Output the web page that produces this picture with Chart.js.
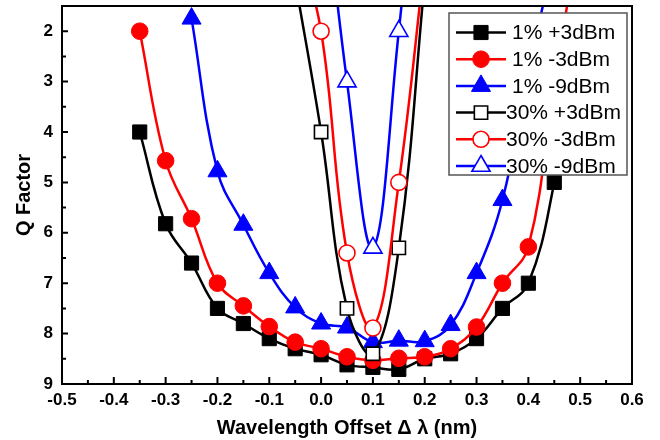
<!DOCTYPE html>
<html>
<head>
<meta charset="utf-8">
<script src="https://cdn.jsdelivr.net/npm/chart.js@4/dist/chart.umd.min.js"></script>
<style>
  html, body { margin: 0; padding: 0; background: #fff; }
  canvas { display: block; }
</style>
</head>
<body>
<canvas id="qChart" width="660" height="440"></canvas>
<script>
// Axis ticks
const xTicks = [-0.5, -0.4, -0.3, -0.2, -0.1, 0, 0.1, 0.2, 0.3, 0.4, 0.5, 0.6];
const yTicks = [2, 3, 4, 5, 6, 7, 8, 9];

// 1% series (filled markers)
const x1p3 = [-0.35, -0.3, -0.25, -0.2, -0.15, -0.1, -0.05, 0, 0.05, 0.1, 0.15, 0.2, 0.25, 0.3, 0.35, 0.4, 0.45, 0.5];
const q1p3 = [4.0, 5.82, 6.6, 7.5, 7.8, 8.1, 8.3, 8.42, 8.62, 8.67, 8.71, 8.5, 8.4, 8.1, 7.5, 7.0, 5.0, 2.0];
const x1m3 = [-0.35, -0.3, -0.25, -0.2, -0.15, -0.1, -0.05, 0, 0.05, 0.1, 0.15, 0.2, 0.25, 0.3, 0.35, 0.4, 0.45, 0.5];
const q1m3 = [2.0, 4.57, 5.72, 7.0, 7.45, 7.86, 8.17, 8.3, 8.46, 8.53, 8.49, 8.46, 8.3, 7.87, 7.0, 6.28, 3.0, 0.0];
const x1m9 = [-0.25, -0.2, -0.15, -0.1, -0.05, 0, 0.05, 0.1, 0.15, 0.2, 0.25, 0.3, 0.35, 0.4, 0.45];
const q1m9 = [1.75, 4.78, 5.84, 6.8, 7.48, 7.8, 7.88, 8.17, 8.14, 8.15, 7.83, 6.8, 5.35, 2.8, 0.5];

// 30% series (open markers)
const x30p3 = [-0.05, 0, 0.05, 0.1, 0.15, 0.2];
const q30p3 = [1.0, 4.0, 7.5, 8.4, 6.3, 1.0];
const x30m3 = [-0.05, 0, 0.05, 0.1, 0.15, 0.2];
const q30m3 = [0.0, 2.0, 6.4, 7.89, 5.0, 0.6];
const x30m9 = [0, 0.05, 0.1, 0.15, 0.2];
const q30m9 = [-1.5, 3.0, 6.3, 2.0, -3.0];

const toPoints = (xs, ys) => xs.map((x, i) => ({ x: x, y: ys[i] }));

const series = [
    { label: '1% +3dBm',  xs: x1p3,  ys: q1p3,  color: '#000000', style: 'rect',     r: 10,  open: false },
    { label: '1% -3dBm',  xs: x1m3,  ys: q1m3,  color: '#ff0000', style: 'circle',   r: 8.3, open: false },
    { label: '1% -9dBm',  xs: x1m9,  ys: q1m9,  color: '#0000ff', style: 'triangle', r: 11,  open: false },
    { label: '30% +3dBm', xs: x30p3, ys: q30p3, color: '#000000', style: 'rect',     r: 9.4, open: true },
    { label: '30% -3dBm', xs: x30m3, ys: q30m3, color: '#ff0000', style: 'circle',   r: 8,   open: true },
    { label: '30% -9dBm', xs: x30m9, ys: q30m9, color: '#0000ff', style: 'triangle', r: 10.5, open: true }
];

// same geometry as Chart.js point styles
function drawMarker(ctx, style, r, x, y) {
    ctx.beginPath();
    if (style === 'rect') {
        const s = r * Math.SQRT1_2;
        ctx.rect(x - s, y - s, 2 * s, 2 * s);
    } else if (style === 'circle') {
        ctx.arc(x, y, r, 0, Math.PI * 2);
    } else {
        for (let k = 0; k < 3; k++) {
            const a = -Math.PI / 2 + k * 2 * Math.PI / 3;
            const px = x + Math.cos(a) * r, py = y + Math.sin(a) * r;
            if (k === 0) ctx.moveTo(px, py); else ctx.lineTo(px, py);
        }
        ctx.closePath();
    }
    ctx.fill();
    ctx.stroke();
}

// frame + inward ticks
const frameTicks = {
    id: 'frameTicks',
    afterDatasetsDraw(chart) {
        const { ctx, chartArea: a, scales: { x, y } } = chart;
        ctx.save();
        ctx.strokeStyle = '#000';
        ctx.lineWidth = 2;
        ctx.strokeRect(a.left, a.top, a.right - a.left, a.bottom - a.top);
        ctx.beginPath();
        xTicks.forEach((v, i) => {
            const px = x.getPixelForValue(v);
            ctx.moveTo(px, a.bottom);
            ctx.lineTo(px, a.bottom - 7);
            if (i < xTicks.length - 1) {
                const m = x.getPixelForValue((v + xTicks[i + 1]) / 2);
                ctx.moveTo(m, a.bottom);
                ctx.lineTo(m, a.bottom - 4);
            }
        });
        yTicks.forEach((v, i) => {
            const py = y.getPixelForValue(v);
            ctx.moveTo(a.left, py);
            ctx.lineTo(a.left + 6, py);
            if (i < yTicks.length - 1) {
                const m = y.getPixelForValue((v + yTicks[i + 1]) / 2);
                ctx.moveTo(a.left, m);
                ctx.lineTo(a.left + 4, m);
            }
        });
        ctx.stroke();
        ctx.restore();
    }
};

// boxed legend inside the plot, top right
const boxLegend = {
    id: 'boxLegend',
    afterDraw(chart) {
        const ctx = chart.ctx;
        const bx = 449, by = 13, bw = 178, bh = 162;
        ctx.save();
        ctx.fillStyle = '#fff';
        ctx.fillRect(bx, by, bw, bh);
        ctx.strokeStyle = '#555';
        ctx.lineWidth = 1.5;
        ctx.strokeRect(bx, by, bw, bh);
        ctx.font = '21px "Liberation Sans", Arial, sans-serif';
        ctx.textBaseline = 'middle';
        series.forEach((s, i) => {
            const cy = 32.5 + i * 26.7;
            ctx.strokeStyle = s.color;
            ctx.lineWidth = 2.5;
            ctx.beginPath();
            ctx.moveTo(456, cy);
            ctx.lineTo(506, cy);
            ctx.stroke();
            ctx.fillStyle = s.open ? '#fff' : s.color;
            ctx.lineWidth = s.open ? 1.6 : 1;
            drawMarker(ctx, s.style, s.r, 481, cy);
            ctx.fillStyle = '#000';
            ctx.fillText(s.label, s.open ? 506 : 512, cy + 1);
        });
        ctx.restore();
    }
};

const tickFont = { family: '"Liberation Sans", Arial, sans-serif', size: 17, weight: 'bold' };
const titleFont = { family: '"Liberation Sans", Arial, sans-serif', size: 20, weight: 'bold' };

new Chart(document.getElementById('qChart'), {
    type: 'line',
    data: {
        datasets: series.map((s, i) => ({
            label: s.label,
            data: toPoints(s.xs, s.ys),
            borderColor: s.color,
            backgroundColor: s.open ? '#ffffff' : s.color,
            borderWidth: 2.5,
            tension: 0.4,
            pointStyle: s.style,
            pointRadius: s.r,
            pointBorderWidth: s.open ? 1.6 : 1,
            pointBorderColor: s.color,
            pointBackgroundColor: s.open ? '#ffffff' : s.color,
            order: -i
        }))
    },
    options: {
        responsive: false,
        animation: false,
        layout: { autoPadding: false, padding: { top: 6, right: 28, left: 0, bottom: 0 } },
        elements: { line: { capBezierPoints: false } },
        plugins: { legend: { display: false }, tooltip: { enabled: false } },
        scales: {
            x: {
                type: 'linear',
                min: -0.5,
                max: 0.6,
                afterBuildTicks: (scale) => { scale.ticks = xTicks.map(v => ({ value: v })); },
                afterFit: (scale) => {
                    scale.height = 56;
                    scale.paddingLeft = 0;
                    scale.paddingRight = 0;
                },
                grid: { display: false, drawTicks: false },
                border: { display: false },
                ticks: {
                    color: '#000',
                    font: tickFont,
                    padding: 6,
                    maxRotation: 0,
                    callback: (v) => Number(v).toFixed(1)
                },
                title: {
                    display: true,
                    text: 'Wavelength Offset Δ λ (nm)',
                    color: '#000',
                    font: titleFont,
                    padding: { top: 0, bottom: 0 }
                }
            },
            y: {
                type: 'linear',
                reverse: true,
                min: 1.5,
                max: 9,
                afterBuildTicks: (scale) => { scale.ticks = yTicks.map(v => ({ value: v })); },
                afterFit: (scale) => {
                    scale.width = 62;
                    scale.paddingTop = 0;
                    scale.paddingBottom = 0;
                },
                grid: { display: false, drawTicks: false },
                border: { display: false },
                ticks: {
                    color: '#000',
                    font: tickFont,
                    padding: 9
                },
                title: {
                    display: true,
                    text: 'Q Factor',
                    color: '#000',
                    font: titleFont,
                    padding: { top: 12, bottom: 0 }
                }
            }
        }
    },
    plugins: [frameTicks, boxLegend]
});
</script>
</body>
</html>
